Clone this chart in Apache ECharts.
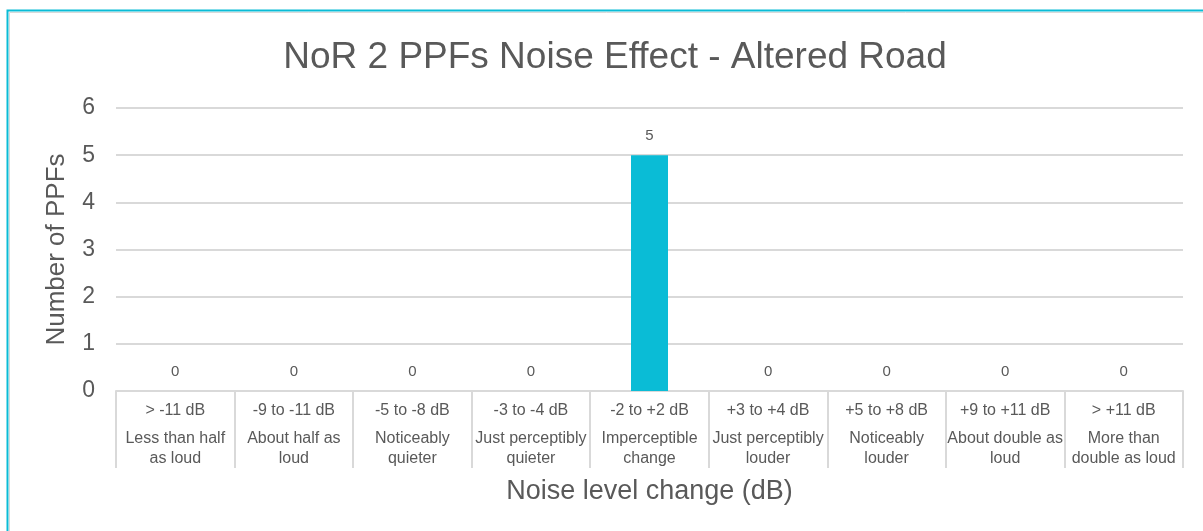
<!DOCTYPE html>
<html>
<head>
<meta charset="utf-8">
<script src="https://cdn.jsdelivr.net/npm/echarts@6/dist/echarts.min.js"></script>
<style>
  html, body { margin: 0; padding: 0; background: #fff; }
  #main { width: 1203px; height: 531px; }
</style>
</head>
<body>
<div id="main"></div>
<script>
// data
var rangeLabels = ['> -11 dB', '-9 to -11 dB', '-5 to -8 dB', '-3 to -4 dB', '-2 to +2 dB',
  '+3 to +4 dB', '+5 to +8 dB', '+9 to +11 dB', '> +11 dB'];
var effectLabels = ['Less than half\nas loud', 'About half as\nloud', 'Noticeably\nquieter',
  'Just perceptibly\nquieter', 'Imperceptible\nchange', 'Just perceptibly\nlouder',
  'Noticeably\nlouder', 'About double as\nloud', 'More than\ndouble as loud'];
var ppfCounts = [0, 0, 0, 0, 5, 0, 0, 0, 0];
var yTicks = [0, 1, 2, 3, 4, 5, 6];

var textColor = '#595959';
var lineColor = '#D9D9D9';
var font = 'Arial, "Liberation Sans", sans-serif';

var chart = echarts.init(document.getElementById('main'));

var option = {
  animation: false,
  textStyle: { fontFamily: font },
  title: {
    text: 'NoR 2 PPFs Noise Effect - Altered Road',
    left: 610,
    textAlign: 'center',
    top: 34,
    textStyle: { fontSize: 37, fontWeight: 'normal', color: textColor, fontFamily: font }
  },
  graphic: [
    { type: 'rect', shape: { x: 7.5, y: 10.5, width: 1300, height: 600 },
      style: { fill: 'none', stroke: '#0ABCD6', lineWidth: 2 }, silent: true },
    { type: 'rect', shape: { x: 9.5, y: 12.5, width: 1300, height: 600 },
      style: { fill: 'none', stroke: '#D9D9D9', lineWidth: 1 }, silent: true }
  ],
  grid: { left: 116, right: 20, top: 108, bottom: 140, containLabel: false },
  xAxis: {
    type: 'category',
    data: rangeLabels,
    name: 'Noise level change (dB)',
    nameLocation: 'middle',
    nameGap: 87,
    nameTextStyle: { fontSize: 27, color: textColor, fontFamily: font },
    axisLine: { lineStyle: { color: lineColor, width: 2 } },
    axisTick: { show: true, interval: 0, length: 77, lineStyle: { color: lineColor, width: 2 } },
    axisLabel: {
      interval: 0,
      margin: 10,
      formatter: function (v, i) {
        return '{a|' + v + '}\n{s|}\n' + effectLabels[i].split('\n').map(function (t) {
          return '{b|' + t + '}';
        }).join('\n');
      },
      rich: {
        a: { fontSize: 16, color: textColor, fontFamily: font, lineHeight: 20 },
        s: { fontSize: 4, lineHeight: 8 },
        b: { fontSize: 16, color: textColor, fontFamily: font, lineHeight: 20 }
      }
    }
  },
  yAxis: {
    type: 'value',
    min: yTicks[0],
    max: yTicks[yTicks.length - 1],
    interval: 1,
    name: 'Number of PPFs',
    nameLocation: 'middle',
    nameGap: 46,
    nameTextStyle: { fontSize: 26, color: textColor, fontFamily: font },
    axisLine: { show: false },
    axisTick: { show: false },
    axisLabel: { fontSize: 23, color: textColor, margin: 21, fontFamily: font },
    splitLine: { lineStyle: { color: lineColor, width: 2 } }
  },
  series: [{
    type: 'bar',
    data: ppfCounts,
    barWidth: 37,
    itemStyle: { color: '#0ABCD6' },
    label: {
      show: true,
      position: 'top',
      distance: 12,
      fontSize: 15,
      color: textColor,
      fontFamily: font
    }
  }]
};

chart.setOption(option);
</script>
</body>
</html>
